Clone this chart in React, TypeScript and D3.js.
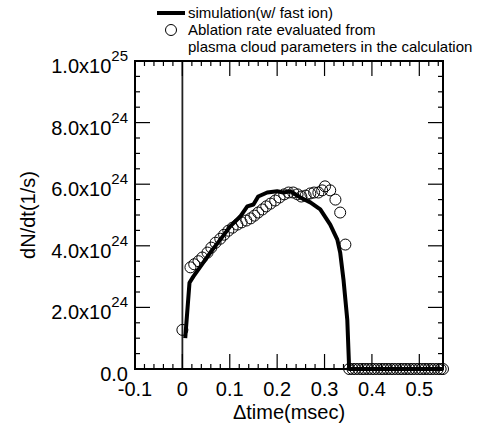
import React from 'react';
import * as d3 from 'd3';

// simulation (w/ fast ion): time in msec, rate in 1e24 /s
const simT = [0.006, 0.015, 0.023, 0.059, 0.08, 0.101, 0.122, 0.137, 0.15, 0.16, 0.179, 0.2, 0.213, 0.228, 0.249, 0.27, 0.291, 0.312, 0.327, 0.333, 0.34, 0.348, 0.352, 0.55];
const simV = [1.0, 2.8, 3.0, 3.78, 4.2, 4.63, 4.95, 5.28, 5.34, 5.6, 5.73, 5.77, 5.73, 5.77, 5.57, 5.41, 5.18, 4.69, 4.2, 3.78, 2.9, 1.6, 0, 0];

// ablation rate from plasma cloud parameters
const abT = [0.0, 0.017, 0.025, 0.034, 0.042, 0.053, 0.061, 0.07, 0.08, 0.088, 0.097, 0.106, 0.116, 0.125, 0.135, 0.144, 0.152, 0.16, 0.169, 0.177, 0.186, 0.196, 0.205, 0.215, 0.224, 0.234, 0.243, 0.251, 0.26, 0.27, 0.278, 0.287, 0.295, 0.301, 0.312, 0.323, 0.333, 0.344,
  0.352, 0.359, 0.365, 0.372, 0.379, 0.385, 0.392, 0.399, 0.405, 0.412, 0.419, 0.425, 0.432, 0.439, 0.445, 0.452, 0.459, 0.465, 0.472, 0.479, 0.485, 0.492, 0.499, 0.505, 0.512, 0.519, 0.525, 0.532, 0.539, 0.545, 0.55];
const abV = [1.27, 3.3, 3.4, 3.5, 3.62, 3.78, 3.94, 4.1, 4.23, 4.36, 4.49, 4.59, 4.69, 4.76, 4.82, 4.89, 4.98, 5.08, 5.18, 5.28, 5.37, 5.47, 5.57, 5.67, 5.73, 5.73, 5.67, 5.6, 5.63, 5.7, 5.73, 5.73, 5.8, 5.93, 5.8, 5.5, 5.08, 4.04,
  0, 0, 0, 0, 0, 0, 0, 0, 0, 0, 0, 0, 0, 0, 0, 0, 0, 0, 0, 0, 0, 0, 0, 0, 0, 0, 0, 0, 0, 0, 0];

const xTicks = [-0.1, 0, 0.1, 0.2, 0.3, 0.4, 0.5];
const xTickLabels = ['-0.1', '0', '0.1', '0.2', '0.3', '0.4', '0.5'];
const yTicks = [0, 2, 4, 6, 8, 10];
const yTickMain = ['0.0', '2.0x10', '4.0x10', '6.0x10', '8.0x10', '1.0x10'];
const yTickExp = ['', '24', '24', '24', '24', '25'];

const legendLabels = ['simulation(w/ fast ion)', 'Ablation rate evaluated from', 'plasma cloud parameters in the calculation'];

const font = '"Liberation Sans", Arial, sans-serif';

export default function App() {
  const width = 483;
  const height = 430;
  const left = 135, right = 443, top = 61, bottom = 369;

  const x = d3.scaleLinear().domain([-0.1, 0.55]).range([left, right]);
  const y = d3.scaleLinear().domain([0, 10]).range([bottom, top]);

  const xMinor = d3.range(-0.1, 0.5501, 0.02).filter(v => !xTicks.some(t => Math.abs(t - v) < 1e-6));
  const yMinor = d3.range(0, 10.001, 0.5).filter(v => !yTicks.some(t => Math.abs(t - v) < 1e-6));

  const line = d3.line<number>()
    .x((_, i) => x(simT[i]))
    .y((_, i) => y(simV[i]));

  return (
    <svg width={width} height={height} style={{ position: 'absolute', left: 0, top: 0 }} fontFamily={font}>
      <rect width={width} height={height} fill="#fff" />

      {/* vertical line at t = 0 */}
      <line x1={x(0)} x2={x(0)} y1={top} y2={bottom} stroke="#222" strokeWidth={1.8} />

      {/* ticks */}
      <g stroke="#000" strokeWidth={1.2}>
        {xTicks.map(t => (
          <g key={'xt' + t}>
            <line x1={x(t)} x2={x(t)} y1={bottom} y2={bottom - 15} />
            <line x1={x(t)} x2={x(t)} y1={top} y2={top + 15} />
          </g>
        ))}
        {xMinor.map(t => (
          <g key={'xm' + t}>
            <line x1={x(t)} x2={x(t)} y1={bottom} y2={bottom - 5} />
            <line x1={x(t)} x2={x(t)} y1={top} y2={top + 5} />
          </g>
        ))}
        {yTicks.map(v => (
          <g key={'yt' + v}>
            <line x1={left} x2={left + 15} y1={y(v)} y2={y(v)} />
            <line x1={right} x2={right - 15} y1={y(v)} y2={y(v)} />
          </g>
        ))}
        {yMinor.map(v => (
          <g key={'ym' + v}>
            <line x1={left} x2={left + 5} y1={y(v)} y2={y(v)} />
            <line x1={right} x2={right - 5} y1={y(v)} y2={y(v)} />
          </g>
        ))}
      </g>

      {/* data */}
      <path d={line(simV) || ''} fill="none" stroke="#000" strokeWidth={4} strokeLinejoin="round" />
      {abT.map((t, i) => (
        <circle key={'c' + i} cx={x(t)} cy={y(abV[i])} r={5.5} fill="none" stroke="#000" strokeWidth={1} />
      ))}

      {/* frame */}
      <rect x={left} y={top} width={right - left} height={bottom - top} fill="none" stroke="#000" strokeWidth={2} />

      {/* tick labels */}
      {xTicks.map((t, i) => (
        <text key={'xl' + t} x={x(t)} y={396} fontSize={20} textAnchor="middle">{xTickLabels[i]}</text>
      ))}
      {yTicks.map((v, i) => (
        <text key={'yl' + v} x={128} y={y(v) + 12} fontSize={20} textAnchor="end">
          {yTickMain[i]}
          {yTickExp[i] && <tspan dy={-12} fontSize={15}>{yTickExp[i]}</tspan>}
        </text>
      ))}

      {/* axis titles */}
      <text x={(left + right) / 2} y={419} fontSize={20} textAnchor="middle">Δtime(msec)</text>
      <text transform={`translate(35, ${(top + bottom) / 2}) rotate(-90)`} fontSize={20} textAnchor="middle">dN/dt(1/s)</text>

      {/* legend */}
      <line x1={157} x2={185} y1={13} y2={13} stroke="#000" strokeWidth={4} />
      <circle cx={171} cy={30} r={5.5} fill="none" stroke="#000" strokeWidth={1} />
      <text x={188} y={18} fontSize={15}>{legendLabels[0]}</text>
      <text x={188} y={35} fontSize={15}>{legendLabels[1]}</text>
      <text x={188} y={52} fontSize={15}>{legendLabels[2]}</text>
    </svg>
  );
}
